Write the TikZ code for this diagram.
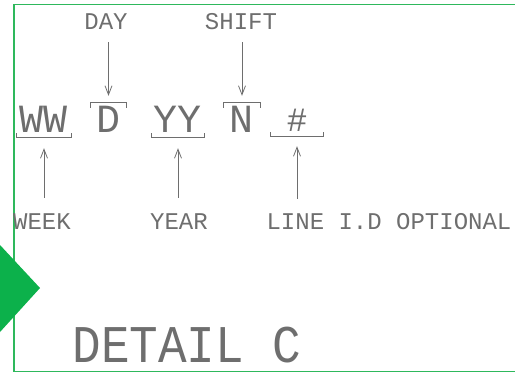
\documentclass[tikz,border=0pt]{standalone}
\usepackage{fontspec}
\usepackage{xcolor}
\newfontfamily\cadfont{Liberation Mono}
\newfontfamily\cadnarrow[FakeStretch=0.9]{Liberation Mono}
\usetikzlibrary{arrows.meta, positioning, calc}
\definecolor{cadgray}{HTML}{6E6E6E}
\definecolor{framegreen}{HTML}{2EB85C}
\definecolor{markgreen}{HTML}{0CB14B}

\begin{document}
\begin{tikzpicture}[x=1pt, y=-1pt,
    lbl/.style={font=\cadfont\fontsize{24}{24}\selectfont, text=cadgray, inner sep=0pt, anchor=base},
    glyph/.style={font=\cadfont\fontsize{40}{40}\selectfont, text=cadgray, inner sep=0pt, anchor=base, text height=26pt, text depth=0pt},
    ptr/.style={-{Straight Barb[length=9pt, width=7pt]}, draw=cadgray, line width=0.8pt},
    brk/.style={draw=cadgray, line width=0.9pt}
]
    \useasboundingbox (0,0) rectangle (515,373);
    % frame and marker
    \draw[framegreen, line width=1.6pt] (516,4.5) -- (14,4.5) -- (14,371.5) -- (516,371.5);
    \fill[markgreen] (0,245) -- (40,288) -- (0,332) -- cycle;

    % code characters
    \node[glyph, minimum width=54pt] (ww) at (44,132) {WW};
    \node[glyph, minimum width=35pt] (dd) at (108.5,132) {D};
    \node[glyph, minimum width=52pt] (yy) at (178,132) {YY};
    \node[glyph, minimum width=36pt] (nn) at (242,132) {N};
    \node[glyph, minimum width=52pt, font=\cadfont\fontsize{34}{34}\selectfont] (hash) at (297,131) {\#};

    % labels
    \node[lbl] (day) at (106,29) {DAY};
    \node[lbl] (shift) at (241,29) {SHIFT};
    \node[lbl] (week) at (42,229) {WEEK};
    \node[lbl] (year) at (179,229) {YEAR};
    \node[lbl] (lineid) at (389,229) {LINE I.D OPTIONAL};
    \node[lbl, font=\cadnarrow\fontsize{53}{53}\selectfont] (detail) at (187,362) {DETAIL C};

    % brackets
    \foreach \g in {ww, yy, hash}
        \draw[brk] ([yshift=-1pt]\g.south west) -- ([yshift=-5pt]\g.south west) -- ([yshift=-5pt]\g.south east) -- ([yshift=-1pt]\g.south east);
    \foreach \g in {dd, nn}
        \draw[brk] ([yshift=-2pt]\g.north west) -- ([yshift=3pt]\g.north west) -- ([yshift=3pt]\g.north east) -- ([yshift=-2pt]\g.north east);

    % pointers
    \draw[ptr, shorten <=13pt] (dd.north |- day.south) -- ([yshift=10pt]dd.north);
    \draw[ptr, shorten <=13pt] (nn.north |- shift.south) -- ([yshift=10pt]nn.north);
    \draw[ptr, shorten <=15pt] (ww.south |- week.north) -- ([yshift=-16pt]ww.south);
    \draw[ptr, shorten <=15pt] (yy.south |- year.north) -- ([yshift=-16pt]yy.south);
    \draw[ptr, shorten <=15pt] ([yshift=-1pt]hash.south |- lineid.north) -- ([yshift=-15pt]hash.south);
\end{tikzpicture}
\end{document}
